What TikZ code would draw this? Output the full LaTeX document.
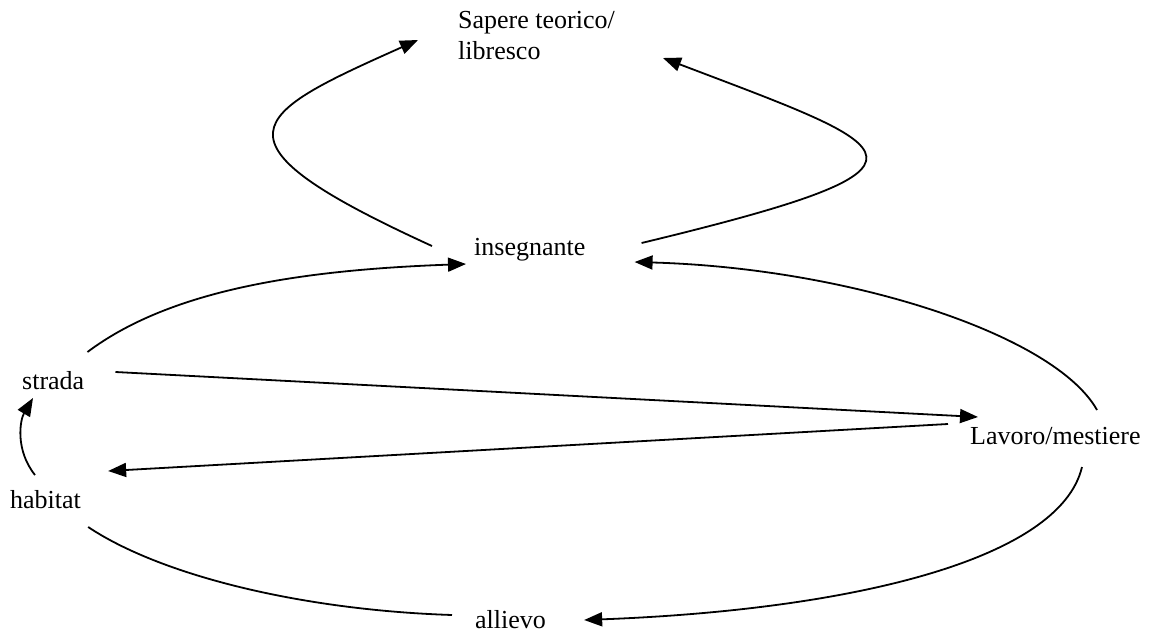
\documentclass[tikz,border=0pt]{standalone}
\usepackage{fontspec}
\setmainfont{Liberation Serif}
\usetikzlibrary{arrows.meta}

\begin{document}
\begin{tikzpicture}[x=1pt,y=-1pt,
	lbl/.style={anchor=base west,inner sep=0pt,font=\fontsize{26}{31}\selectfont},
	link/.style={line width=1.8pt},
	arr/.style={link,-{Triangle[length=18pt,width=14pt]}}]
	\useasboundingbox (0,0) rectangle (1152,632);

	% Text Node
	\node [lbl,anchor=north west,align=left] (sap) at (458,11) {Sapere teorico/\\libresco};
	% Text Node
	\node [lbl] (ins) at (474,255) {insegnante};
	% Text Node
	\node [lbl] (str) at (22,389) {strada};
	% Text Node
	\node [lbl] (hab) at (10,508) {habitat};
	% Text Node
	\node [lbl] (lav) at (970,444) {Lavoro/mestiere};
	% Text Node
	\node [lbl] (all) at (475,628) {allievo};

	%Curve Lines insegnante -> sapere (left loop)
	\draw [arr] ([shift={(-42,-9)}]ins.base west) .. controls (200,140) and (250,115) .. ([shift={(-40,29)}]sap.north west) ;
	%Curve Lines insegnante -> sapere (right loop)
	\draw [arr] ([shift={(56,-12)}]ins.base east) .. controls (965,165) and (905,150) .. ([shift={(205,47)}]sap.north west) ;
	%Curve Lines strada -> insegnante
	\draw [arr] ([shift={(3,-37)}]str.base east) .. controls (170,290) and (300,270) .. ([shift={(-8,9)}]ins.base west) ;
	%Curve Lines lavoro -> insegnante
	\draw [arr] ([shift={(127,-34)}]lav.base west) .. controls (1055,335) and (850,268) .. ([shift={(49,7)}]ins.base east) ;
	%Straight Lines strada -> lavoro
	\draw [arr] ([shift={(31,-17)}]str.base east) -- ([shift={(8,-27)}]lav.base west) ;
	%Straight Lines lavoro -> habitat
	\draw [arr] ([shift={(-22,-20)}]lav.base west) -- ([shift={(27,-37)}]hab.base east) ;
	%Curve Lines habitat -> strada
	\draw [arr] ([shift={(25,-33)}]hab.base west) .. controls (15,450) and (20,420) .. ([shift={(11,9)}]str.base west) ;
	%Curve Lines habitat -- allievo
	\draw [link] ([shift={(7,19)}]hab.base east) .. controls (160,575) and (300,610) .. ([shift={(-23,-13)}]all.base west) ;
	%Curve Lines lavoro -> allievo
	\draw [arr] ([shift={(112,23)}]lav.base west) .. controls (1060,560) and (850,610) .. ([shift={(38,-8)}]all.base east) ;

\end{tikzpicture}
\end{document}
